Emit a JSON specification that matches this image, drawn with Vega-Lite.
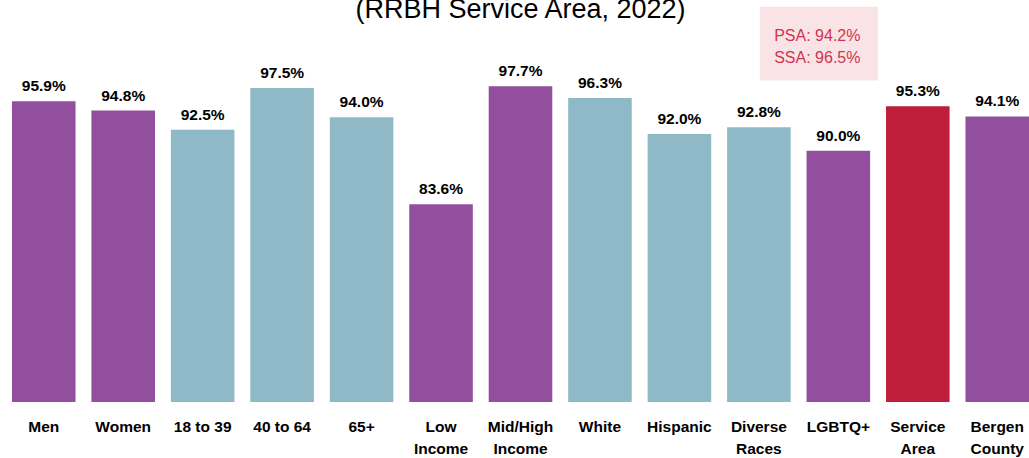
{
  "$schema": "https://vega.github.io/schema/vega-lite/v6.json",
  "width": 1029,
  "height": 402,
  "autosize": "none",
  "padding": {"left": 0, "top": 0, "right": 0, "bottom": 56},
  "background": "white",
  "title": {"text": "(RRBH Service Area, 2022)", "fontSize": 27, "font": "Liberation Sans", "fontWeight": "normal", "color": "#000000", "anchor": "middle", "frame": "group", "baseline": "alphabetic", "offset": -20, "dy": 25, "dx": 6},
  "config": {"view": {"stroke": null}},
  "datasets": {
    "bars": [
      {"group": "Men", "value": 95.9, "label": "95.9%", "cat": "p"},
      {"group": "Women", "value": 94.8, "label": "94.8%", "cat": "p"},
      {"group": "18 to 39", "value": 92.5, "label": "92.5%", "cat": "b"},
      {"group": "40 to 64", "value": 97.5, "label": "97.5%", "cat": "b"},
      {"group": "65+", "value": 94.0, "label": "94.0%", "cat": "b"},
      {"group": "Low|Income", "value": 83.6, "label": "83.6%", "cat": "p"},
      {"group": "Mid/High|Income", "value": 97.7, "label": "97.7%", "cat": "p"},
      {"group": "White", "value": 96.3, "label": "96.3%", "cat": "b"},
      {"group": "Hispanic", "value": 92.0, "label": "92.0%", "cat": "b"},
      {"group": "Diverse|Races", "value": 92.8, "label": "92.8%", "cat": "b"},
      {"group": "LGBTQ+", "value": 90.0, "label": "90.0%", "cat": "p"},
      {"group": "Service|Area", "value": 95.3, "label": "95.3%", "cat": "r"},
      {"group": "Bergen|County", "value": 94.1, "label": "94.1%", "cat": "p"}
    ],
    "notebox": [
      {"group": "LGBTQ+", "top": 107.2, "bottom": 98.4}
    ],
    "notetext": [
      {"group": "LGBTQ+", "y": 103.7, "text": "PSA: 94.2%"},
      {"group": "LGBTQ+", "y": 101.1, "text": "SSA: 96.5%"}
    ]
  },
  "layer": [
    {
      "data": {"name": "bars"},
      "mark": {"type": "bar", "xOffset": 6},
      "encoding": {
        "x": {
          "field": "group", "type": "nominal", "sort": null,
          "scale": {"paddingInner": 0.2, "paddingOuter": 0.075},
          "axis": {"title": null, "labelExpr": "split(datum.label, '|')", "labelFont": "Liberation Sans", "labelFontWeight": "bold", "labelFontSize": 15.5, "labelColor": "#000000", "labelPadding": 17.5, "labelLineHeight": 22, "labelOffset": 6, "domain": false, "ticks": false, "labelAngle": 0, "labelBaseline": "top"}
        },
        "y": {"field": "value", "type": "quantitative", "scale": {"domain": [60, 108], "zero": false, "nice": false, "clamp": true}, "axis": null},
        "y2": {"datum": 60},
        "color": {"field": "cat", "type": "nominal", "scale": {"domain": ["p", "b", "r"], "range": ["#924f9e", "#8fb9c7", "#be1e3a"]}, "legend": null}
      }
    },
    {
      "data": {"name": "bars"},
      "mark": {"type": "text", "xOffset": 6, "font": "Liberation Sans", "fontWeight": "bold", "fontSize": 15.5, "color": "#000000", "baseline": "alphabetic", "dy": -10},
      "encoding": {
        "x": {"field": "group", "type": "nominal", "sort": null},
        "y": {"field": "value", "type": "quantitative"},
        "text": {"field": "label"}
      }
    },
    {
      "data": {"name": "notebox"},
      "mark": {"type": "bar", "width": 118, "xOffset": -13.5, "color": "#fae3e6"},
      "encoding": {
        "x": {"field": "group", "type": "nominal", "sort": null},
        "y": {"field": "top", "type": "quantitative"},
        "y2": {"field": "bottom"}
      }
    },
    {
      "data": {"name": "notetext"},
      "mark": {"type": "text", "xOffset": -15, "font": "Liberation Sans", "fontSize": 16, "color": "#d0344e", "baseline": "middle"},
      "encoding": {
        "x": {"field": "group", "type": "nominal", "sort": null},
        "y": {"field": "y", "type": "quantitative"},
        "text": {"field": "text"}
      }
    }
  ]
}
